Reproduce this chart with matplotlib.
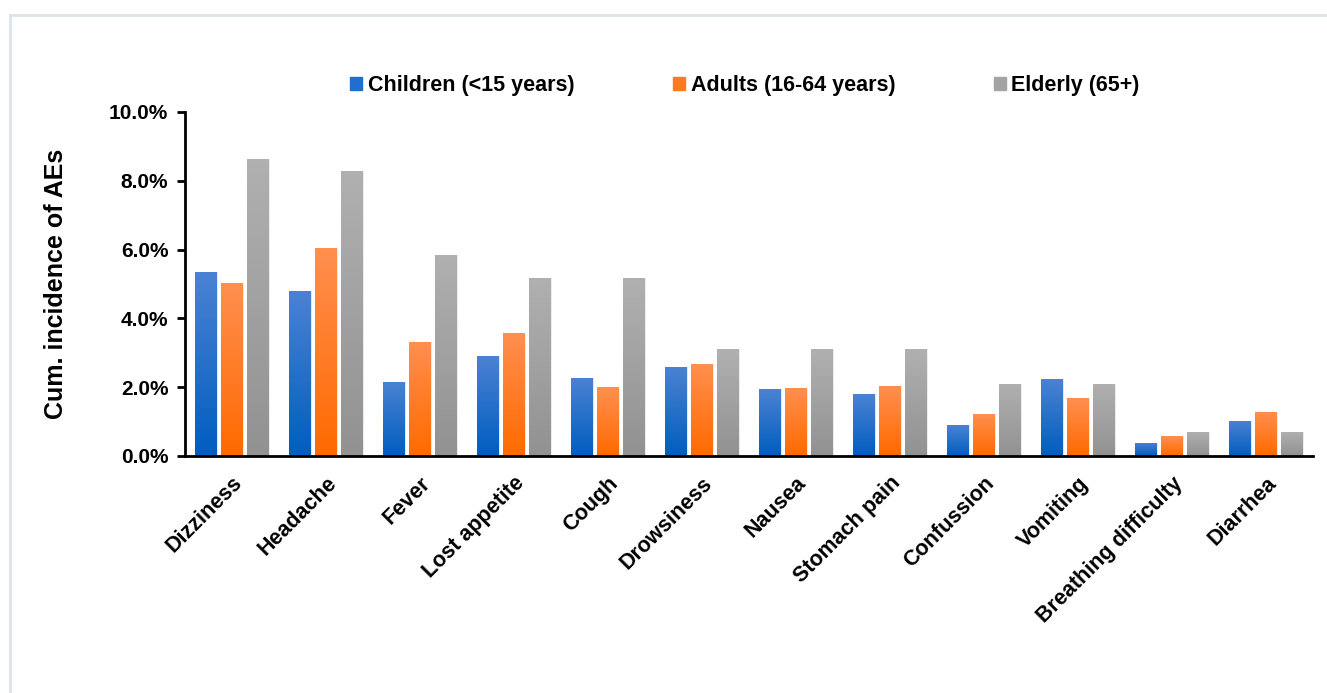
# grouped bar chart: cumulative incidence of adverse events by age group

import numpy as np
import matplotlib
matplotlib.use("Agg")
import matplotlib.pyplot as plt
from matplotlib.colors import LinearSegmentedColormap
from matplotlib.lines import Line2D
from matplotlib.ticker import PercentFormatter

plt.rcParams['font.family'] = ['Liberation Sans', 'DejaVu Sans']
plt.rcParams['font.weight'] = 'bold'

# data (fractions)
symptoms = ["Dizziness", "Headache", "Fever", "Lost appetite", "Cough", "Drowsiness",
            "Nausea", "Stomach pain", "Confussion", "Vomiting", "Breathing difficulty", "Diarrhea"]
groups = ["Children (<15 years)", "Adults (16-64 years)", "Elderly (65+)"]
children = [0.0534, 0.0481, 0.0216, 0.0292, 0.0228, 0.0259, 0.0194, 0.0180, 0.0089, 0.0224, 0.0039, 0.0102]
adults = [0.0504, 0.0606, 0.0331, 0.0357, 0.0200, 0.0267, 0.0198, 0.0203, 0.0123, 0.0168, 0.0057, 0.0129]
elderly = [0.0862, 0.0828, 0.0585, 0.0517, 0.0517, 0.0311, 0.0311, 0.0311, 0.0210, 0.0210, 0.0071, 0.0071]
yticks = [0.0, 0.02, 0.04, 0.06, 0.08, 0.10]

# gradient fills: (top, bottom) colours and flat colour for the legend
grad = [("#4b82d3", "#005ebf", "#1f6fd0"),
        ("#ff8f4f", "#ff6a00", "#ff7a22"),
        ("#b0b0b0", "#929292", "#a3a3a3")]

fig = plt.figure(figsize=(13.27, 6.93), dpi=100)
ax = fig.add_axes([0.1394, 0.342, 0.8501, 0.4964])

x = np.arange(len(symptoms))
width = 0.229
step = 0.277
series = [children, adults, elderly]

for i, vals in enumerate(series):
    top, bottom, flat = grad[i]
    bars = ax.bar(x + (i - 1) * step, vals, width, color=flat, edgecolor="#eef2f8",
                  linewidth=0.6, label=groups[i], zorder=2)
    cmap = LinearSegmentedColormap.from_list("g%d" % i, [bottom, top])
    g = np.linspace(0, 1, 64).reshape(-1, 1)
    for b in bars:
        x0, y0 = b.get_x(), b.get_y()
        im = ax.imshow(g, cmap=cmap, aspect="auto", origin="lower", zorder=2.5,
                       extent=[x0, x0 + b.get_width(), y0, y0 + b.get_height()])
        im.set_clip_path(b)

ax.set_xlim(-0.5, len(symptoms) - 0.5)
ax.set_ylim(0, 0.10)
ax.set_yticks(yticks)
ax.yaxis.set_major_formatter(PercentFormatter(1.0, decimals=1))
ax.set_xticks(x)
ax.set_xticklabels(symptoms, rotation=45, ha="right", rotation_mode="anchor")

for s in ["top", "right"]:
    ax.spines[s].set_visible(False)
for s in ["left", "bottom"]:
    ax.spines[s].set_linewidth(2)
    ax.spines[s].set_zorder(3)

ax.tick_params(axis="y", length=6, width=2, labelsize=15, pad=6)
ax.tick_params(axis="x", length=0, labelsize=15.5, pad=12)

fig.text(56 / 1327, 1 - 284 / 693, "Cum. incidence of AEs", rotation=90,
         ha="center", va="center", fontsize=18, fontweight="bold")

handles = [plt.Rectangle((0, 0), 1, 1, color=g[2]) for g in grad]
ax.legend(handles, groups, ncol=3, frameon=False, fontsize=15.5,
          loc="center", bbox_to_anchor=(0.4965, 1.076),
          handlelength=0.55, handleheight=0.55, handletextpad=0.25, columnspacing=4.6)

# light frame around the figure (top and left)
fig.add_artist(Line2D([10 / 1327, 10 / 1327], [0, 1 - 15 / 693], color="#dde3ec", lw=2))
fig.add_artist(Line2D([10 / 1327, 1], [1 - 15 / 693, 1 - 15 / 693], color="#dde3ec", lw=2))

fig.savefig("out.png", dpi=100)
